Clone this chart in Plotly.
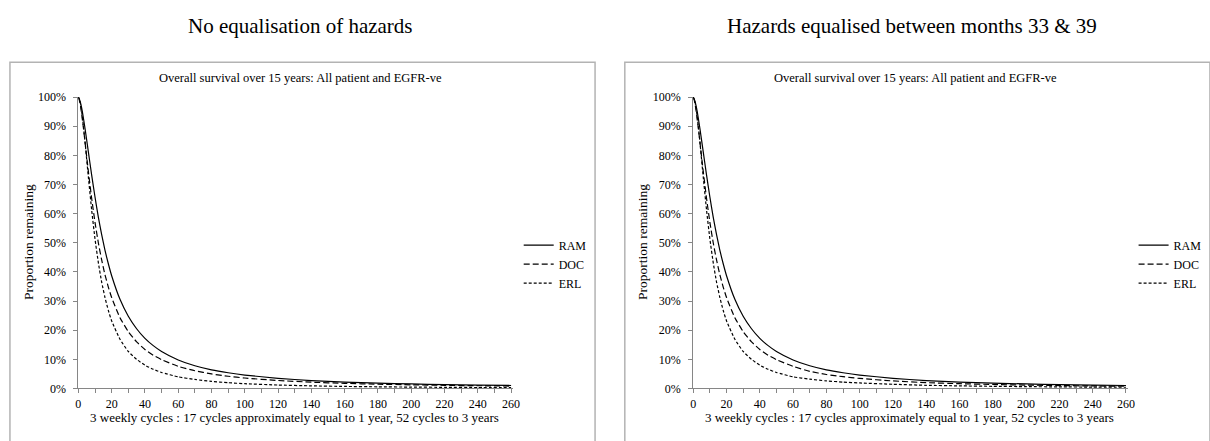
import plotly.graph_objects as go

# ---------------- data ----------------
cycles = [0, 1, 2, 3, 4, 6, 8, 10, 12, 14, 16, 18, 20, 25, 30, 35, 40, 45, 50,
          60, 70, 80, 90, 100, 120, 140, 160, 180, 200, 220, 240, 260]

# Left panel: no equalisation of hazards (proportion remaining, %)
ram_noeq = [100, 98.7, 96.2, 92.9, 89.2, 81.2, 73.2, 65.7, 58.8, 52.8, 47.4, 42.8, 38.7,
            30.6, 24.8, 20.5, 17.2, 14.7, 12.7, 9.8, 7.8, 6.4, 5.4, 4.6,
            3.5, 2.7, 2.2, 1.84, 1.56, 1.34, 1.17, 1.03]
doc_noeq = [100, 97.9, 94.1, 89.6, 84.6, 74.5, 65.2, 57.0, 50.0, 44.1, 39.0, 34.8, 31.2,
            24.3, 19.5, 16.0, 13.4, 11.4, 9.9, 7.6, 6.1, 5.0, 4.2, 3.6,
            2.74, 2.17, 1.77, 1.48, 1.26, 1.09, 0.95, 0.84]
erl_noeq = [100, 98.5, 95.0, 90.2, 84.6, 72.6, 61.2, 51.3, 43.2, 36.5, 31.2, 26.8, 23.2,
            16.9, 12.7, 10.0, 8.0, 6.6, 5.5, 4.0, 3.1, 2.44, 1.98, 1.64,
            1.19, 0.90, 0.71, 0.58, 0.48, 0.40, 0.34, 0.30]

# Right panel: hazards equalised between months 33 & 39
ram_eq = [100, 98.7, 96.2, 92.9, 89.2, 81.2, 73.2, 65.7, 58.8, 52.8, 47.4, 42.8, 38.7,
          30.6, 24.8, 20.5, 17.2, 14.7, 12.7, 9.8, 7.8, 6.4, 5.4, 4.6,
          3.5, 2.7, 2.2, 1.84, 1.56, 1.34, 1.17, 1.03]
doc_eq = [100, 97.9, 94.1, 89.6, 84.6, 74.5, 65.2, 57.0, 50.0, 44.1, 39.0, 34.8, 31.2,
          24.3, 19.5, 16.0, 13.4, 11.4, 9.9, 7.6, 5.9, 4.8, 4.05, 3.45,
          2.6, 2.0, 1.65, 1.38, 1.17, 1.0, 0.88, 0.77]
erl_eq = [100, 98.5, 95.0, 90.2, 84.6, 72.6, 61.2, 51.3, 43.2, 36.5, 31.2, 26.8, 23.2,
          16.9, 12.7, 10.0, 8.0, 6.6, 5.5, 4.0, 3.2, 2.6, 2.2, 1.9,
          1.45, 1.1, 0.9, 0.75, 0.64, 0.55, 0.48, 0.42]

series_names = ["RAM", "DOC", "ERL"]
panel_titles = ["No equalisation of hazards", "Hazards equalised between months 33 & 39"]
chart_title = "Overall survival over 15 years: All patient and EGFR-ve"
x_title = "3 weekly cycles : 17 cycles approximately equal to 1 year, 52 cycles to 3 years"
y_title = "Proportion remaining"

# ---------------- figure ----------------
W, H = 1210, 441
FONT = "Liberation Serif, Times New Roman, serif"
dashes = ["solid", "6px,3px", "3px,2px"]

def px_x(p):
    return p / W

def px_y(p):
    return 1 - p / H

fig = go.Figure()

panels = [
    (ram_noeq, doc_noeq, erl_noeq),
    (ram_eq, doc_eq, erl_eq),
]
offsets = [0, 620]
legends = ["legend", "legend2"]

for i, data in enumerate(panels):
    xa = "x" if i == 0 else "x2"
    ya = "y" if i == 0 else "y2"
    for name, vals, d in zip(series_names, data, dashes):
        fig.add_trace(go.Scatter(
            x=cycles, y=[v / 100 for v in vals], name=name, mode="lines",
            line=dict(color="black", width=1.2, dash=d, shape="spline", smoothing=0.5),
            xaxis=xa, yaxis=ya, legend=legends[i],
        ))

axis_common_x = dict(
    range=[0, 261], tickmode="linear", tick0=0, dtick=20,
    ticks="outside", ticklen=4, tickcolor="#868686",
    showline=True, linecolor="#868686", linewidth=1,
    showgrid=False, zeroline=False,
    tickfont=dict(family=FONT, size=12, color="black"),
    minor=dict(dtick=10, ticks="outside", ticklen=4, tickcolor="#868686", showgrid=False),
)
axis_common_y = dict(
    range=[0, 1.0], tickmode="linear", tick0=0, dtick=0.1, tickformat=".0%",
    ticks="outside", ticklen=4, tickcolor="#868686",
    showline=True, linecolor="#868686", linewidth=1,
    showgrid=False, zeroline=False, ticklabelstandoff=5,
    tickfont=dict(family=FONT, size=12, color="black"),
)

y_dom = [px_y(394), px_y(93)]
legend_common = dict(xanchor="left", yanchor="top", font=dict(family=FONT, size=12),
                     itemwidth=30, bgcolor="rgba(0,0,0,0)", tracegroupgap=0)
fig.update_layout(
    width=W, height=H,
    margin=dict(l=0, r=0, t=0, b=0),
    paper_bgcolor="white", plot_bgcolor="white",
    font=dict(family=FONT, color="black"),
    xaxis=dict(domain=[px_x(76), px_x(514)], anchor="y", **axis_common_x),
    yaxis=dict(domain=y_dom, anchor="x", **axis_common_y),
    xaxis2=dict(domain=[px_x(696), px_x(1134)], anchor="y2", **axis_common_x),
    yaxis2=dict(domain=y_dom, anchor="x2", **axis_common_y),
    legend=dict(x=px_x(520), y=px_y(231), **legend_common),
    legend2=dict(x=px_x(1140), y=px_y(231), **legend_common),
    showlegend=True,
)

# chart frames
for off in offsets:
    fig.add_shape(type="rect", xref="paper", yref="paper",
                  x0=px_x(7 + off), x1=px_x(597 + off), y0=px_y(460), y1=px_y(57),
                  line=dict(color="#b3b3b3", width=1.5), fillcolor="rgba(0,0,0,0)",
                  layer="below")

annotations = []
for i, off in enumerate(offsets):
    annotations.append(dict(text=panel_titles[i], xref="paper", yref="paper",
                            x=px_x(300 + off * 0.995), y=px_y(20), showarrow=False,
                            font=dict(family=FONT, size=21), xanchor="center", yanchor="middle"))
    annotations.append(dict(text=chart_title, xref="paper", yref="paper",
                            x=px_x(300 + off), y=px_y(73), showarrow=False,
                            font=dict(family=FONT, size=12.5), xanchor="center", yanchor="middle"))
    annotations.append(dict(text=x_title, xref="paper", yref="paper",
                            x=px_x(294 + off), y=px_y(424), showarrow=False,
                            font=dict(family=FONT, size=13), xanchor="center", yanchor="middle"))
    annotations.append(dict(text=y_title, xref="paper", yref="paper",
                            x=px_x(25 + off), y=px_y(243), showarrow=False, textangle=-90,
                            font=dict(family=FONT, size=13.5), xanchor="center", yanchor="middle"))
fig.update_layout(annotations=annotations)

fig.write_html("out.html", config={"displayModeBar": False},
               post_script="document.body.style.margin='0px';")
